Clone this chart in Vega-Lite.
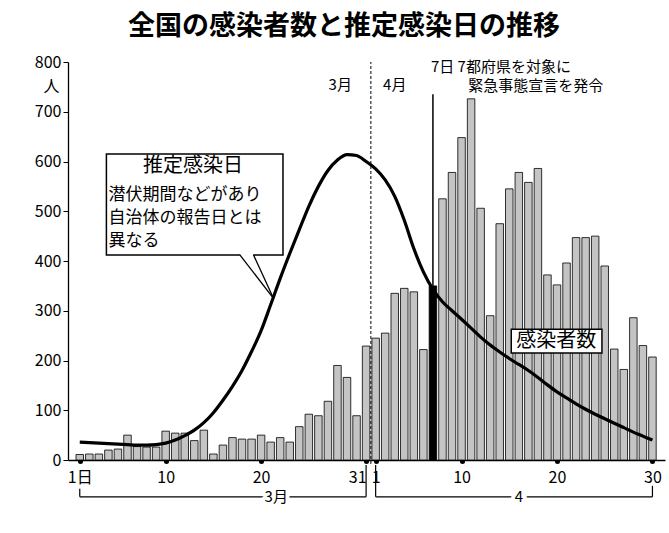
{
  "$schema": "https://vega.github.io/schema/vega-lite/v6.json",
  "width": 597,
  "height": 398,
  "autosize": {"type": "none"},
  "padding": {"left": 68, "top": 62, "right": 4, "bottom": 73},
  "background": "white",
  "config": {"font": "Noto Sans CJK JP", "view": {"stroke": null}, "axis": {"grid": false}, "text": {"color": "black"}},
  "title": {"text": "全国の感染者数と推定感染日の推移", "anchor": "start", "frame": "group", "dx": 60, "offset": 13, "fontSize": 27, "fontWeight": "bold", "color": "black", "font": "Noto Sans CJK JP"},
  "datasets": {
    "days": [
      {"date": "2020-03-01T00:00", "cases": 11, "est": 36},
      {"date": "2020-03-02T00:00", "cases": 12, "est": 35},
      {"date": "2020-03-03T00:00", "cases": 12, "est": 34},
      {"date": "2020-03-04T00:00", "cases": 20, "est": 33},
      {"date": "2020-03-05T00:00", "cases": 22, "est": 32},
      {"date": "2020-03-06T00:00", "cases": 50, "est": 31},
      {"date": "2020-03-07T00:00", "cases": 27, "est": 30},
      {"date": "2020-03-08T00:00", "cases": 26, "est": 30},
      {"date": "2020-03-09T00:00", "cases": 26, "est": 31},
      {"date": "2020-03-10T00:00", "cases": 58, "est": 34},
      {"date": "2020-03-11T00:00", "cases": 54, "est": 40},
      {"date": "2020-03-12T00:00", "cases": 54, "est": 49},
      {"date": "2020-03-13T00:00", "cases": 39, "est": 60},
      {"date": "2020-03-14T00:00", "cases": 60, "est": 75},
      {"date": "2020-03-15T00:00", "cases": 12, "est": 95},
      {"date": "2020-03-16T00:00", "cases": 30, "est": 120},
      {"date": "2020-03-17T00:00", "cases": 45, "est": 148},
      {"date": "2020-03-18T00:00", "cases": 42, "est": 180},
      {"date": "2020-03-19T00:00", "cases": 42, "est": 218},
      {"date": "2020-03-20T00:00", "cases": 50, "est": 260},
      {"date": "2020-03-21T00:00", "cases": 36, "est": 312},
      {"date": "2020-03-22T00:00", "cases": 45, "est": 365},
      {"date": "2020-03-23T00:00", "cases": 36, "est": 415},
      {"date": "2020-03-24T00:00", "cases": 67, "est": 463},
      {"date": "2020-03-25T00:00", "cases": 92, "est": 510},
      {"date": "2020-03-26T00:00", "cases": 89, "est": 550},
      {"date": "2020-03-27T00:00", "cases": 118, "est": 582},
      {"date": "2020-03-28T00:00", "cases": 190, "est": 603},
      {"date": "2020-03-29T00:00", "cases": 166, "est": 614},
      {"date": "2020-03-30T00:00", "cases": 89, "est": 612},
      {"date": "2020-03-31T00:00", "cases": 229, "est": 600},
      {"date": "2020-04-01T00:00", "cases": 245, "est": 585},
      {"date": "2020-04-02T00:00", "cases": 255, "est": 563},
      {"date": "2020-04-03T00:00", "cases": 335, "est": 530},
      {"date": "2020-04-04T00:00", "cases": 345, "est": 482},
      {"date": "2020-04-05T00:00", "cases": 338, "est": 425},
      {"date": "2020-04-06T00:00", "cases": 222, "est": 378},
      {"date": "2020-04-07T00:00", "cases": 350, "est": 343},
      {"date": "2020-04-08T00:00", "cases": 525, "est": 318},
      {"date": "2020-04-09T00:00", "cases": 578, "est": 300},
      {"date": "2020-04-10T00:00", "cases": 648, "est": 283},
      {"date": "2020-04-11T00:00", "cases": 726, "est": 265},
      {"date": "2020-04-12T00:00", "cases": 506, "est": 247},
      {"date": "2020-04-13T00:00", "cases": 290, "est": 231},
      {"date": "2020-04-14T00:00", "cases": 475, "est": 217},
      {"date": "2020-04-15T00:00", "cases": 545, "est": 204},
      {"date": "2020-04-16T00:00", "cases": 578, "est": 192},
      {"date": "2020-04-17T00:00", "cases": 558, "est": 180},
      {"date": "2020-04-18T00:00", "cases": 586, "est": 166},
      {"date": "2020-04-19T00:00", "cases": 372, "est": 151},
      {"date": "2020-04-20T00:00", "cases": 352, "est": 137},
      {"date": "2020-04-21T00:00", "cases": 396, "est": 125},
      {"date": "2020-04-22T00:00", "cases": 447, "est": 113},
      {"date": "2020-04-23T00:00", "cases": 447, "est": 102},
      {"date": "2020-04-24T00:00", "cases": 450, "est": 92},
      {"date": "2020-04-25T00:00", "cases": 390, "est": 83},
      {"date": "2020-04-26T00:00", "cases": 223, "est": 74},
      {"date": "2020-04-27T00:00", "cases": 182, "est": 65},
      {"date": "2020-04-28T00:00", "cases": 286, "est": 56},
      {"date": "2020-04-29T00:00", "cases": 230, "est": 48},
      {"date": "2020-04-30T00:00", "cases": 207, "est": 40}
    ],
    "months": [
      {"label": "3月", "start": "2020-03-01T00:00", "end": "2020-03-31T00:00", "mid": "2020-03-21T14:00"},
      {"label": "4", "start": "2020-04-01T00:00", "end": "2020-04-30T00:00", "mid": "2020-04-16T00:00"}
    ]
  },
  "data": {"name": "days"},
  "layer": [
    {
      "mark": {"type": "bar", "size": 7.5, "stroke": "black", "strokeWidth": 0.8},
      "encoding": {
        "x": {
          "field": "date", "type": "temporal",
          "scale": {"domain": [{"year": 2020, "month": 2, "date": 29, "hours": 7}, {"year": 2020, "month": 4, "date": 30, "hours": 19}]},
          "axis": {
            "title": null,
            "values": [{"year": 2020, "month": 3, "date": 1}, {"year": 2020, "month": 3, "date": 10}, {"year": 2020, "month": 3, "date": 20}, {"year": 2020, "month": 3, "date": 31}, {"year": 2020, "month": 4, "date": 1}, {"year": 2020, "month": 4, "date": 10}, {"year": 2020, "month": 4, "date": 20}, {"year": 2020, "month": 4, "date": 30}],
            "labelExpr": "(month(datum.value)==2 && date(datum.value)==1) ? '1日' : '' + date(datum.value)",
            "labelAlign": {"condition": {"test": "month(datum.value)==2 && date(datum.value)==31", "value": "right"}, "value": "center"},
            "labelOverlap": false,
            "labelFontSize": 16,
            "labelColor": "black",
            "labelPadding": 8,
            "domainColor": "black",
            "domainWidth": 1.3,
            "tickColor": "black",
            "tickSize": 1,
            "tickWidth": 5,
            "tickCap": "round"
          }
        },
        "y": {
          "field": "cases", "type": "quantitative",
          "scale": {"domain": [0, 800], "nice": false},
          "axis": {
            "values": [0, 100, 200, 300, 400, 500, 600, 700, 800],
            "title": "人", "titleAngle": 0, "titleX": -17, "titleY": 24, "titleFontSize": 16, "titleFontWeight": "normal", "titleColor": "black", "titleAlign": "center", "titleBaseline": "middle",
            "labelFontSize": 16, "labelColor": "black", "labelPadding": 2,
            "tickSize": 5, "tickColor": "black", "domainColor": "black", "domainWidth": 1.3
          }
        },
        "fill": {"condition": {"test": "month(datum.date)==3 && date(datum.date)==7", "value": "black"}, "value": "#c4c4c4"}
      }
    },
    {
      "mark": {"type": "line", "color": "black", "strokeWidth": 3.2, "interpolate": "monotone"},
      "encoding": {"x": {"field": "date", "type": "temporal"}, "y": {"field": "est", "type": "quantitative"}}
    },
    {
      "data": {"values": [{}]},
      "mark": {"type": "rule", "color": "black", "strokeWidth": 1, "strokeDash": [3, 2]},
      "encoding": {
        "x": {"datum": {"year": 2020, "month": 3, "date": 31, "hours": 12}, "type": "temporal"},
        "y": {"datum": -8, "type": "quantitative"},
        "y2": {"datum": 800}
      }
    },
    {
      "data": {"values": [{}]},
      "mark": {"type": "rule", "color": "black", "strokeWidth": 1.5},
      "encoding": {
        "x": {"datum": {"year": 2020, "month": 4, "date": 7}, "type": "temporal"},
        "y": {"datum": 0, "type": "quantitative"},
        "y2": {"datum": 735}
      }
    },
    {
      "data": {"values": [{}]},
      "mark": {"type": "text", "text": "3月", "fontSize": 15, "align": "center", "baseline": "middle"},
      "encoding": {
        "x": {"datum": {"year": 2020, "month": 3, "date": 28, "hours": 7}, "type": "temporal"},
        "y": {"datum": 754, "type": "quantitative"}
      }
    },
    {
      "data": {"values": [{}]},
      "mark": {"type": "text", "text": "4月", "fontSize": 15, "align": "center", "baseline": "middle"},
      "encoding": {
        "x": {"datum": {"year": 2020, "month": 4, "date": 3}, "type": "temporal"},
        "y": {"datum": 754, "type": "quantitative"}
      }
    },
    {
      "data": {"values": [{}]},
      "mark": {"type": "text", "text": "7日 7都府県を対象に", "fontSize": 15, "align": "left", "baseline": "middle"},
      "encoding": {
        "x": {"datum": {"year": 2020, "month": 4, "date": 6, "hours": 19}, "type": "temporal"},
        "y": {"datum": 789, "type": "quantitative"}
      }
    },
    {
      "data": {"values": [{}]},
      "mark": {"type": "text", "text": "緊急事態宣言を発令", "fontSize": 15, "align": "left", "baseline": "middle"},
      "encoding": {
        "x": {"datum": {"year": 2020, "month": 4, "date": 10, "hours": 17}, "type": "temporal"},
        "y": {"datum": 752, "type": "quantitative"}
      }
    },
    {
      "data": {"values": [{}]},
      "mark": {"type": "rect", "fill": "white", "stroke": "black", "strokeWidth": 1.5},
      "encoding": {
        "x": {"datum": {"year": 2020, "month": 3, "date": 3, "hours": 19}, "type": "temporal"},
        "x2": {"datum": {"year": 2020, "month": 3, "date": 22, "hours": 7}},
        "y": {"datum": 615, "type": "quantitative"},
        "y2": {"datum": 412}
      }
    },
    {
      "data": {"values": [{}]},
      "mark": {"type": "rule", "color": "white", "strokeWidth": 3},
      "encoding": {
        "x": {"datum": {"year": 2020, "month": 3, "date": 17, "hours": 20}, "type": "temporal"},
        "x2": {"datum": {"year": 2020, "month": 3, "date": 19, "hours": 4}},
        "y": {"datum": 412, "type": "quantitative"}
      }
    },
    {
      "data": {"values": [{}]},
      "mark": {"type": "rule", "color": "black", "strokeWidth": 1.3},
      "encoding": {
        "x": {"datum": {"year": 2020, "month": 3, "date": 17, "hours": 19}, "type": "temporal"},
        "x2": {"datum": {"year": 2020, "month": 3, "date": 21, "hours": 7}},
        "y": {"datum": 412, "type": "quantitative"},
        "y2": {"datum": 325}
      }
    },
    {
      "data": {"values": [{}]},
      "mark": {"type": "rule", "color": "black", "strokeWidth": 1.3},
      "encoding": {
        "x": {"datum": {"year": 2020, "month": 3, "date": 19, "hours": 5}, "type": "temporal"},
        "x2": {"datum": {"year": 2020, "month": 3, "date": 21, "hours": 7}},
        "y": {"datum": 412, "type": "quantitative"},
        "y2": {"datum": 325}
      }
    },
    {
      "data": {"values": [{}]},
      "mark": {"type": "text", "text": "推定感染日", "fontSize": 20, "align": "center", "baseline": "middle"},
      "encoding": {
        "x": {"datum": {"year": 2020, "month": 3, "date": 12, "hours": 21}, "type": "temporal"},
        "y": {"datum": 590, "type": "quantitative"}
      }
    },
    {
      "data": {"values": [{}]},
      "mark": {"type": "text", "text": "潜伏期間などがあり", "fontSize": 17, "align": "left", "baseline": "middle"},
      "encoding": {
        "x": {"datum": {"year": 2020, "month": 3, "date": 4, "hours": 0}, "type": "temporal"},
        "y": {"datum": 533, "type": "quantitative"}
      }
    },
    {
      "data": {"values": [{}]},
      "mark": {"type": "text", "text": "自治体の報告日とは", "fontSize": 17, "align": "left", "baseline": "middle"},
      "encoding": {
        "x": {"datum": {"year": 2020, "month": 3, "date": 4, "hours": 0}, "type": "temporal"},
        "y": {"datum": 487, "type": "quantitative"}
      }
    },
    {
      "data": {"values": [{}]},
      "mark": {"type": "text", "text": "異なる", "fontSize": 17, "align": "left", "baseline": "middle"},
      "encoding": {
        "x": {"datum": {"year": 2020, "month": 3, "date": 4, "hours": 0}, "type": "temporal"},
        "y": {"datum": 441, "type": "quantitative"}
      }
    },
    {
      "data": {"values": [{}]},
      "mark": {"type": "rect", "fill": "white", "stroke": "black", "strokeWidth": 1.5},
      "encoding": {
        "x": {"datum": {"year": 2020, "month": 4, "date": 15, "hours": 5}, "type": "temporal"},
        "x2": {"datum": {"year": 2020, "month": 4, "date": 24, "hours": 17}},
        "y": {"datum": 263, "type": "quantitative"},
        "y2": {"datum": 215}
      }
    },
    {
      "data": {"values": [{}]},
      "mark": {"type": "text", "text": "感染者数", "fontSize": 20, "align": "center", "baseline": "middle"},
      "encoding": {
        "x": {"datum": {"year": 2020, "month": 4, "date": 19, "hours": 22}, "type": "temporal"},
        "y": {"datum": 239, "type": "quantitative"}
      }
    },
    {
      "data": {"name": "months"},
      "mark": {"type": "rule", "color": "black", "strokeWidth": 1.2},
      "encoding": {
        "x": {"field": "start", "type": "temporal"},
        "x2": {"field": "end"},
        "y": {"datum": -74, "type": "quantitative"}
      }
    },
    {
      "data": {"values": [{}]},
      "mark": {"type": "rule", "color": "black", "strokeWidth": 1.2},
      "encoding": {
        "x": {"datum": {"year": 2020, "month": 3, "date": 1}, "type": "temporal"},
        "y": {"datum": -74, "type": "quantitative"},
        "y2": {"datum": -58}
      }
    },
    {
      "data": {"values": [{}]},
      "mark": {"type": "rule", "color": "black", "strokeWidth": 1.2},
      "encoding": {
        "x": {"datum": {"year": 2020, "month": 3, "date": 31}, "type": "temporal"},
        "y": {"datum": -74, "type": "quantitative"},
        "y2": {"datum": -10}
      }
    },
    {
      "data": {"values": [{}]},
      "mark": {"type": "rule", "color": "black", "strokeWidth": 1.2},
      "encoding": {
        "x": {"datum": {"year": 2020, "month": 4, "date": 1}, "type": "temporal"},
        "y": {"datum": -74, "type": "quantitative"},
        "y2": {"datum": -10}
      }
    },
    {
      "data": {"values": [{}]},
      "mark": {"type": "rule", "color": "black", "strokeWidth": 1.2},
      "encoding": {
        "x": {"datum": {"year": 2020, "month": 4, "date": 30}, "type": "temporal"},
        "y": {"datum": -74, "type": "quantitative"},
        "y2": {"datum": -52}
      }
    },
    {
      "data": {"name": "months"},
      "mark": {"type": "text", "fontSize": 15, "align": "center", "baseline": "middle", "stroke": "white", "strokeWidth": 8},
      "encoding": {
        "x": {"field": "mid", "type": "temporal"},
        "y": {"datum": -74, "type": "quantitative"},
        "text": {"field": "label"}
      }
    },
    {
      "data": {"name": "months"},
      "mark": {"type": "text", "fontSize": 15, "align": "center", "baseline": "middle"},
      "encoding": {
        "x": {"field": "mid", "type": "temporal"},
        "y": {"datum": -74, "type": "quantitative"},
        "text": {"field": "label"}
      }
    }
  ]
}
